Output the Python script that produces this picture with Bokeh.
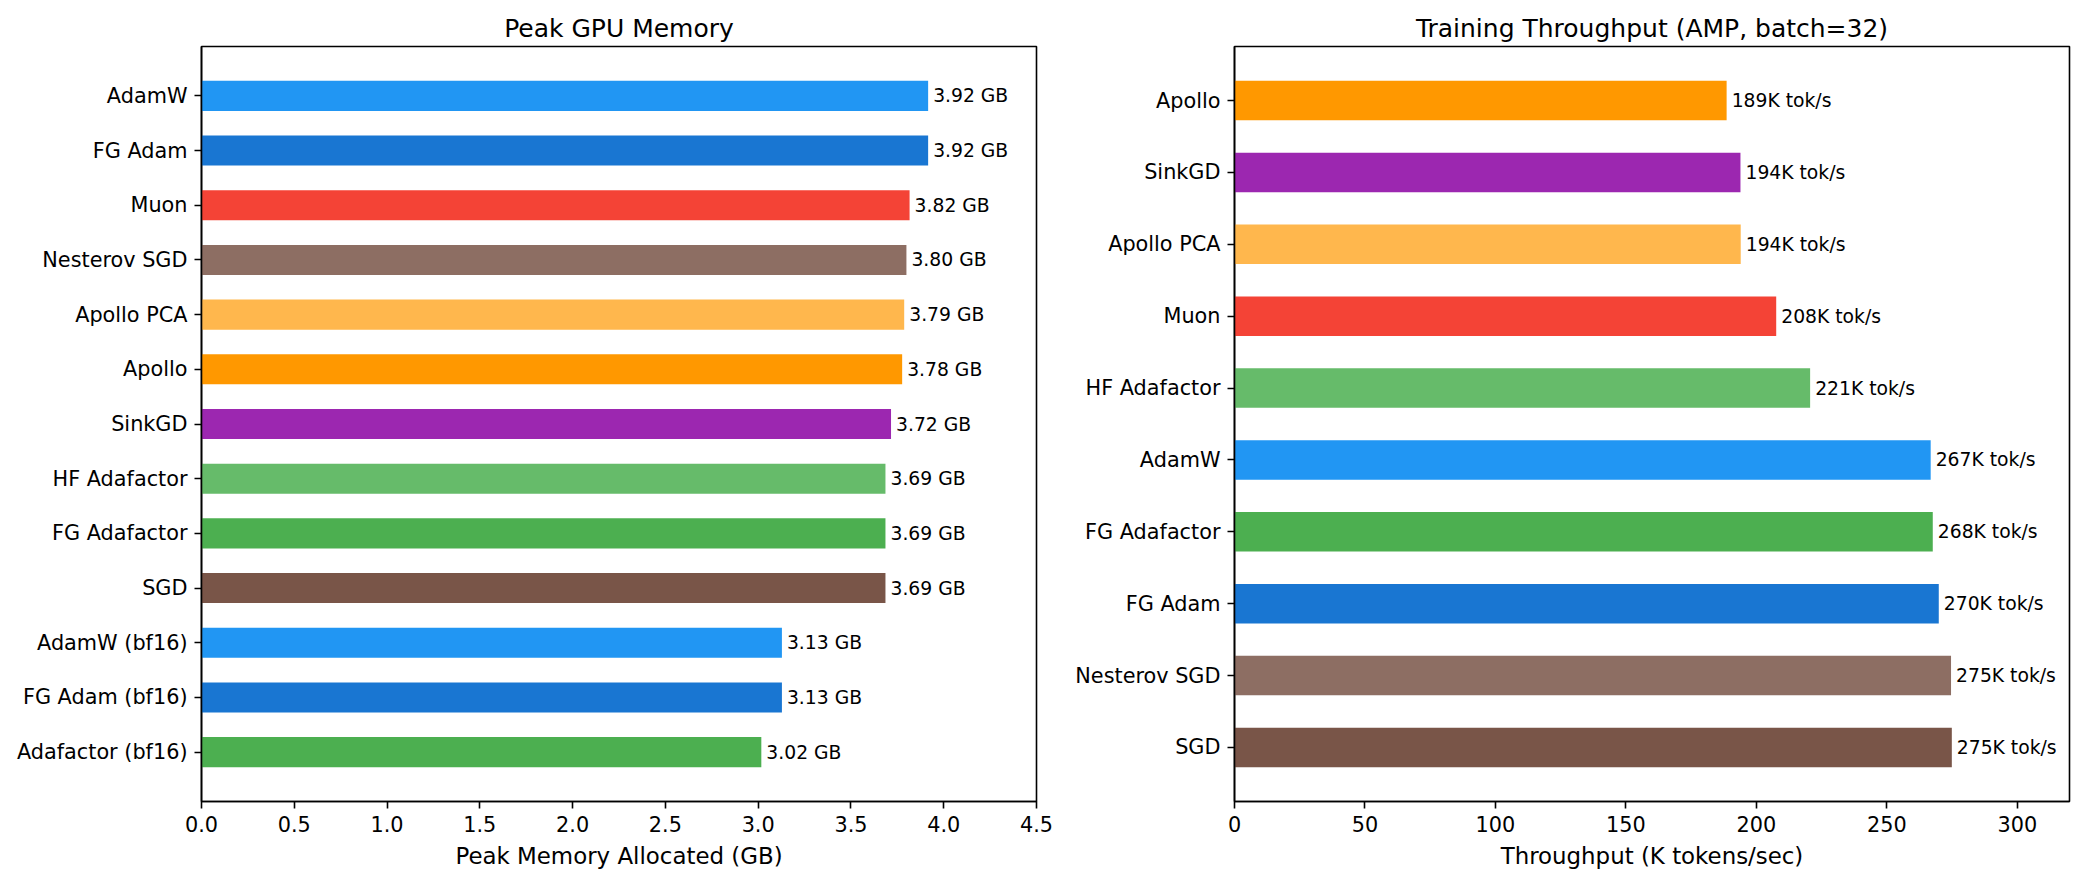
import numpy as np
from bokeh.plotting import figure
from bokeh.layouts import row
from bokeh.models import ColumnDataSource, Range1d, FixedTicker, NumeralTickFormatter
from bokeh.core.properties import value
from bokeh.embed import file_html
from bokeh.resources import INLINE

# ---- data (top to bottom as shown) ----
mem_names = ["AdamW", "FG Adam", "Muon", "Nesterov SGD", "Apollo PCA", "Apollo", "SinkGD",
             "HF Adafactor", "FG Adafactor", "SGD", "AdamW (bf16)", "FG Adam (bf16)", "Adafactor (bf16)"]
mem_values = [3.916, 3.916, 3.816, 3.799, 3.787, 3.776, 3.716, 3.686, 3.686, 3.686, 3.128, 3.128, 3.017]
mem_colors = ["#2196F3", "#1976D2", "#F44336", "#8D6E63", "#FFB74D", "#FF9800", "#9C27B0",
              "#66BB6A", "#4CAF50", "#795548", "#2196F3", "#1976D2", "#4CAF50"]

thr_names = ["Apollo", "SinkGD", "Apollo PCA", "Muon", "HF Adafactor", "AdamW",
             "FG Adafactor", "FG Adam", "Nesterov SGD", "SGD"]
thr_values = [188.6, 193.9, 194.0, 207.6, 220.6, 266.8, 267.6, 269.9, 274.6, 274.9]
thr_colors = ["#FF9800", "#9C27B0", "#FFB74D", "#F44336", "#66BB6A", "#2196F3",
              "#4CAF50", "#1976D2", "#8D6E63", "#795548"]

mem_ticks = [0.0, 0.5, 1.0, 1.5, 2.0, 2.5, 3.0, 3.5, 4.0, 4.5]
thr_ticks = [0, 50, 100, 150, 200, 250, 300]

FONT = "DejaVu Sans"
BAR_H = 0.55


def make(names, vals, colors, labels, title, xlabel, xmax, xticks, xfmt,
         width, bl, br):
    n = len(names)
    ypos = list(range(n - 1, -1, -1))  # first item at top
    src = ColumnDataSource(dict(y=ypos, v=vals, c=colors, lab=labels))
    pad = 0.05 * (n - 1 + BAR_H)
    p = figure(width=width, height=882, output_backend="svg", toolbar_location=None,
               x_range=Range1d(0, xmax),
               y_range=Range1d(-BAR_H / 2 - pad, n - 1 + BAR_H / 2 + pad),
               min_border_left=bl, min_border_right=br, min_border_top=46,
               min_border_bottom=81)
    p.hbar(y="y", left=0, right="v", height=BAR_H, fill_color="c", line_color=None, source=src)
    p.text(x="v", y="y", text="lab", source=src, x_offset=5,
           text_font=value(FONT), text_font_size=value("18.75px"),
           text_baseline="middle", text_align="left", text_color="black")

    p.title.text = title
    p.title.align = "center"
    p.title.text_font = FONT
    p.title.text_font_size = "25px"
    p.title.text_font_style = "normal"
    p.title.text_color = "black"
    p.title.standoff = 8

    p.xgrid.visible = False
    p.ygrid.visible = False
    p.outline_line_color = "black"
    p.outline_line_width = 1.6
    p.outline_line_alpha = 1.0

    p.yaxis.ticker = FixedTicker(ticks=ypos)
    p.yaxis.major_label_overrides = {float(y): nm for y, nm in zip(ypos, names)}
    p.xaxis.ticker = FixedTicker(ticks=xticks)
    p.xaxis.formatter = NumeralTickFormatter(format=xfmt)
    p.xaxis.axis_label = xlabel

    for ax in (p.xaxis, p.yaxis):
        ax.minor_tick_line_color = None
        ax.major_tick_out = 7
        ax.major_tick_in = 0
        ax.major_tick_line_width = 1.6
        ax.major_tick_line_color = "black"
        ax.axis_line_color = "black"
        ax.axis_line_width = 1.6
        ax.major_label_text_font = FONT
        ax.major_label_text_font_size = "20.8px"
        ax.major_label_text_color = "black"
        ax.major_label_standoff = 7
        ax.axis_label_text_font = FONT
        ax.axis_label_text_font_size = "22.9px"
        ax.axis_label_text_font_style = "normal"
        ax.axis_label_text_color = "black"
        ax.axis_label_standoff = 8
    return p


p1 = make(mem_names, mem_values, mem_colors, [f"{v:.2f} GB" for v in mem_values],
          "Peak GPU Memory", "Peak Memory Allocated (GB)", 4.5, mem_ticks, "0.0",
          1060, 201, 24)
p2 = make(thr_names, thr_values, thr_colors, [f"{v:.0f}K tok/s" for v in thr_values],
          "Training Throughput (AMP, batch=32)", "Throughput (K tokens/sec)", 320, thr_ticks, "0",
          1024, 174, 15)

layout = row(p1, p2)
open("out.html", "w").write(file_html(layout, INLINE))
